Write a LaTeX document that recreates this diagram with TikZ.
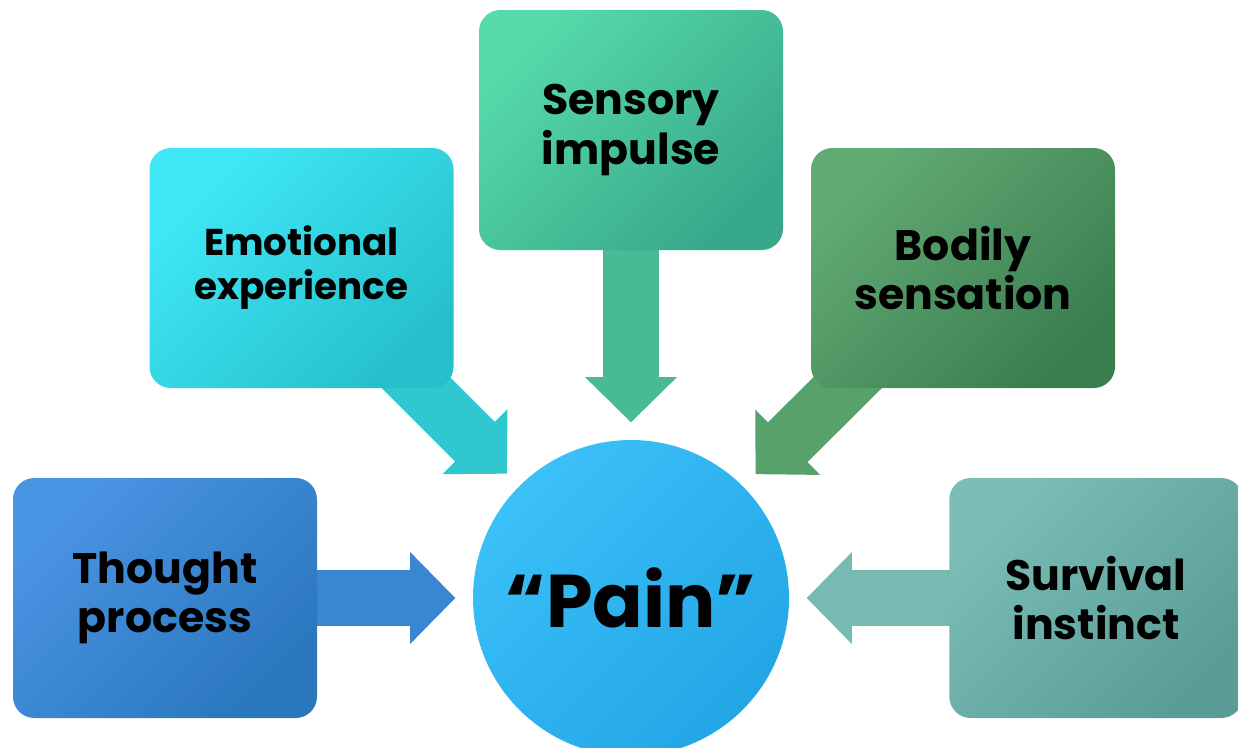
\documentclass[tikz,border=0pt]{standalone}
\usepackage{fontspec}
\setmainfont{Poppins}
\usetikzlibrary{arrows.meta,backgrounds}

\definecolor{thoughtA}{HTML}{4A94E4}
\definecolor{thoughtB}{HTML}{2B77BE}
\definecolor{thoughtArrow}{HTML}{3A86D2}
\definecolor{emotionA}{HTML}{40E8F6}
\definecolor{emotionB}{HTML}{26C0CC}
\definecolor{emotionArrow}{HTML}{2EC8CE}
\definecolor{sensoryA}{HTML}{56DAAA}
\definecolor{sensoryB}{HTML}{38A88A}
\definecolor{sensoryArrow}{HTML}{48BA96}
\definecolor{bodilyA}{HTML}{62AA74}
\definecolor{bodilyB}{HTML}{3A7E50}
\definecolor{bodilyArrow}{HTML}{58A06C}
\definecolor{survivalA}{HTML}{7ABEB6}
\definecolor{survivalB}{HTML}{5A9C96}
\definecolor{survivalArrow}{HTML}{76BAB2}
\definecolor{painA}{HTML}{3CC0F8}
\definecolor{painB}{HTML}{22A6E6}

\tikzset{
  box/.style={rounded corners=16pt, minimum width=228pt, minimum height=180pt,
    align=center, text=black, font=\fontsize{32}{37}\selectfont\bfseries},
  flow/.style={line width=42pt, -{Triangle[length=34pt,width=67pt]}, shorten >=13pt}
}

\begin{document}
\begin{tikzpicture}[x=0.75pt,y=0.75pt,yscale=-1]
\useasboundingbox (0,0) rectangle (1238,747);

%Shape: Circle [id:pain]
\node (pain) at (631,598) [circle, minimum size=237pt, inner sep=0pt,
  top color=painA, bottom color=painB, shading angle=45,
  font=\fontsize{56}{60}\selectfont\bfseries] {“Pain”};

%Shape: Rounded Rect [id:thought]
\node (thought) at (165,598) [box, top color=thoughtA, bottom color=thoughtB, shading angle=45] {Thought\\process};
%Shape: Rounded Rect [id:emotion]
\node (emotion) at (301.5,268) [box, top color=emotionA, bottom color=emotionB, shading angle=45,
  font=\fontsize{28}{33}\selectfont\bfseries] {Emotional\\experience};
%Shape: Rounded Rect [id:sensory]
\node (sensory) at (631,130) [box, top color=sensoryA, bottom color=sensoryB, shading angle=45] {Sensory\\impulse};
%Shape: Rounded Rect [id:bodily]
\node (bodily) at (963,268) [box, top color=bodilyA, bottom color=bodilyB, shading angle=45] {Bodily\\sensation};
%Shape: Rounded Rect [id:survival]
\node (survival) at (1096,598) [box, minimum width=220pt, top color=survivalA, bottom color=survivalB, shading angle=45] {Survival\\instinct};

%Block Arrows
\begin{scope}[on background layer]
\draw [flow, color=thoughtArrow] (thought.center) -- (pain);
\draw [flow, color=emotionArrow] (emotion.center) -- (pain);
\draw [flow, color=sensoryArrow] (sensory.center) -- (pain);
\draw [flow, color=bodilyArrow] (bodily.center) -- (pain);
\draw [flow, color=survivalArrow] (survival.center) -- (pain);
\end{scope}
\end{tikzpicture}
\end{document}
